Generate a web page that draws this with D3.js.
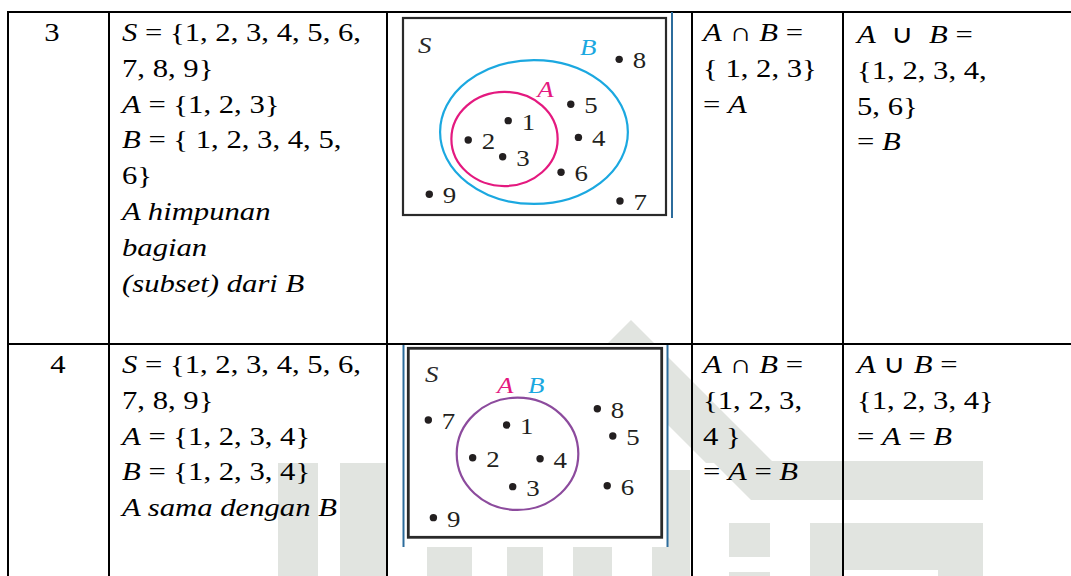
<!DOCTYPE html>
<html>
<head>
<meta charset="utf-8">
<script src="https://cdn.jsdelivr.net/npm/d3@7"></script>
<style>
	html, body { margin: 0; padding: 0; background: #fff; overflow: hidden; }
	svg { display: block; }
	text { font-family: "Liberation Serif", "Times New Roman", serif; }
</style>
</head>
<body>
<svg id="chart"></svg>
<script>
// ---- data ----
const rowNumbers = ['3', '4'];

// each line is a list of [text, italic?] pieces
const setLines = [
	[
		[['S', 1], [' = {1, 2, 3, 4, 5, 6,', 0]],
		[['7, 8, 9}', 0]],
		[['A', 1], [' = {1, 2, 3}', 0]],
		[['B', 1], [' = { 1, 2, 3, 4, 5,', 0]],
		[['6}', 0]],
		[['A himpunan', 1]],
		[['bagian', 1]],
		[['(subset) dari B', 1]],
	],
	[
		[['S', 1], [' = {1, 2, 3, 4, 5, 6,', 0]],
		[['7, 8, 9}', 0]],
		[['A', 1], [' = {1, 2, 3, 4}', 0]],
		[['B', 1], [' = {1, 2, 3, 4}', 0]],
		[['A sama dengan B', 1]],
	],
];

const intersectionLines = [
	[
		[['A', 1], [' \u2229 ', 0], ['B', 1], [' =', 0]],
		[['{ 1, 2, 3}', 0]],
		[['= ', 0], ['A', 1]],
	],
	[
		[['A', 1], [' \u2229 ', 0], ['B', 1], [' =', 0]],
		[['{1, 2, 3,', 0]],
		[['4 }', 0]],
		[['= ', 0], ['A', 1], [' = ', 0], ['B', 1]],
	],
];

const unionLines = [
	[
		[['A', 1], ['\u00a0 \u222a \u00a0', 0], ['B', 1], [' =', 0]],
		[['{1, 2, 3, 4,', 0]],
		[['5, 6}', 0]],
		[['= ', 0], ['B', 1]],
	],
	[
		[['A', 1], [' \u222a ', 0], ['B', 1], [' =', 0]],
		[['{1, 2, 3, 4}', 0]],
		[['= ', 0], ['A', 1], [' = ', 0], ['B', 1]],
	],
];

// Venn diagrams, in box units (0..100 across and down the S rectangle)
const vennPoints = [
	[
		{ label: '1', u: 40.0, v: 52.1 },
		{ label: '2', u: 24.8, v: 61.9 },
		{ label: '3', u: 37.9, v: 70.4 },
		{ label: '4', u: 66.7, v: 60.6 },
		{ label: '5', u: 63.8, v: 43.8 },
		{ label: '6', u: 60.1, v: 78.3 },
		{ label: '7', u: 82.5, v: 92.9 },
		{ label: '8', u: 82.2, v: 21.0 },
		{ label: '9', u: 10.0, v: 89.5 },
	],
	[
		{ label: '1', u: 38.8, v: 40.6 },
		{ label: '2', u: 25.4, v: 57.9 },
		{ label: '3', u: 41.2, v: 73.2 },
		{ label: '4', u: 52.0, v: 58.4 },
		{ label: '5', u: 80.7, v: 46.4 },
		{ label: '6', u: 78.5, v: 72.7 },
		{ label: '7', u: 7.9, v: 37.9 },
		{ label: '8', u: 74.6, v: 32.0 },
		{ label: '9', u: 9.9, v: 89.6 },
	],
];

const vennSets = [
	[
		{ name: 'B', cu: 49.8, cv: 57.9, ru: 35.7, rv: 36.5 },
		{ name: 'A', cu: 38.6, cv: 61.4, ru: 20.2, rv: 23.9 },
	],
	[
		{ name: 'AB', cu: 43.1, cv: 55.8, ru: 24.0, rv: 29.7 },
	],
];

const vennLabels = [
	[
		{ name: 'S', u: 5.7, v: 17.8 },
		{ name: 'B', u: 67.3, v: 18.8 },
		{ name: 'A', u: 51.0, v: 39.9 },
	],
	[
		{ name: 'S', u: 6.6, v: 17.8 },
		{ name: 'A', u: 35.0, v: 23.7 },
		{ name: 'B', u: 47.2, v: 23.7 },
	],
];

// ---- layout ----
const W = 1071, H = 576;
const colX = [8, 109, 387, 692, 843];
const rowTop = [12, 344];
const lineStep = 35.8;
const sx = 1.18; // the scan is stretched sideways
const fontSize = 26;
const vennFont = 24;

const setColor = { A: '#e4197f', B: '#1ba8e0', AB: '#8c4b9d', S: '#2a2a2a' };
const wmColor = '#e1e4e0';

const svg = d3.select('#chart').attr('width', W).attr('height', H);
svg.append('rect').attr('width', W).attr('height', H).attr('fill', '#fff');

// faint watermark logo behind the table
const wm = svg.append('g').attr('fill', wmColor);
const wmPolys = [
	// roof: two slanted arms meeting at the top
	[[631, 320], [774, 463], [706, 463], [631, 388], [556, 463], [488, 463]],
	// eave running to the right
	[[712, 461], [983, 461], [983, 500], [751, 500]],
];
wm.selectAll('polygon')
	.data(wmPolys)
	.join('polygon')
	.attr('points', (d) => d.map((p) => p.join(',')).join(' '));
const wmRects = [
	[278, 463, 40, 113], [340, 463, 47, 113],
	[427, 470, 45, 106], [507, 470, 36, 106], [573, 470, 39, 106], [652, 470, 38, 106],
	[729, 523, 41, 34], [729, 572, 41, 4],
	[810, 523, 173, 53],
];
wm.selectAll('rect')
	.data(wmRects)
	.join('rect')
	.attr('x', (d) => d[0]).attr('y', (d) => d[1])
	.attr('width', (d) => d[2]).attr('height', (d) => d[3]);
wm.append('rect').attr('x', 843).attr('y', 570).attr('width', 95).attr('height', 6).attr('fill', '#fff');

// table rules
const rules = svg.append('g').attr('stroke', '#000').attr('stroke-width', 2);
rules.selectAll('line.v')
	.data(colX)
	.join('line')
	.attr('class', 'v')
	.attr('x1', (d) => d).attr('x2', (d) => d)
	.attr('y1', rowTop[0] - 1).attr('y2', H);
rules.selectAll('line.h')
	.data(rowTop)
	.join('line')
	.attr('class', 'h')
	.attr('x1', colX[0] - 1).attr('x2', W)
	.attr('y1', (d) => d).attr('y2', (d) => d);

// text helper
function drawLines(g, lines, x, y0) {
	lines.forEach((pieces, i) => {
		const t = g.append('text')
			.attr('transform', `translate(${x},${y0 + i * lineStep}) scale(${sx},1)`)
			.attr('font-size', fontSize)
			.attr('fill', '#000')
			.style('white-space', 'pre');
		t.selectAll('tspan')
			.data(pieces)
			.join('tspan')
			.attr('font-style', (d) => (d[1] ? 'italic' : 'normal'))
			.text((d) => d[0]);
	});
}

const textG = svg.append('g');
rowNumbers.forEach((n, r) => {
	const base = rowTop[r] + 29;
	textG.append('text')
		.attr('transform', `translate(${r === 0 ? 52 : 58},${base}) scale(${sx},1)`)
		.attr('font-size', fontSize)
		.attr('text-anchor', 'middle')
		.text(n);
	drawLines(textG, setLines[r], 122, base);
	drawLines(textG, intersectionLines[r], 703, base);
	drawLines(textG, unionLines[r], 857, base + (r === 0 ? 2 : 0));
});

// Venn diagrams
const boxes = [
	{ bg: [395, 14, 277, 204], frame: [403, 18, 666, 215], blue: [672], blueY: [12, 218], frameW: 2.2 },
	{ bg: [403, 345, 265, 202], frame: [408.3, 348.3, 661.7, 537.3], blue: [403.5, 667.5], blueY: [345, 547], frameW: 2.8 },
];

boxes.forEach((b, k) => {
	const g = svg.append('g');
	g.append('rect')
		.attr('x', b.bg[0]).attr('y', b.bg[1])
		.attr('width', b.bg[2]).attr('height', b.bg[3])
		.attr('fill', '#fff');
	g.selectAll('line.blue')
		.data(b.blue)
		.join('line')
		.attr('class', 'blue')
		.attr('x1', (d) => d).attr('x2', (d) => d)
		.attr('y1', b.blueY[0]).attr('y2', b.blueY[1])
		.attr('stroke', '#2c6c9c').attr('stroke-width', 2);

	const x = d3.scaleLinear().domain([0, 100]).range([b.frame[0], b.frame[2]]);
	const y = d3.scaleLinear().domain([0, 100]).range([b.frame[1], b.frame[3]]);
	const kx = x(1) - x(0), ky = y(1) - y(0);

	g.append('rect')
		.attr('x', x(0)).attr('y', y(0))
		.attr('width', x(100) - x(0)).attr('height', y(100) - y(0))
		.attr('fill', 'none')
		.attr('stroke', '#2a2a2a')
		.attr('stroke-width', b.frameW);

	g.selectAll('ellipse')
		.data(vennSets[k])
		.join('ellipse')
		.attr('cx', (d) => x(d.cu)).attr('cy', (d) => y(d.cv))
		.attr('rx', (d) => d.ru * kx).attr('ry', (d) => d.rv * ky)
		.attr('fill', 'none')
		.attr('stroke', (d) => setColor[d.name])
		.attr('stroke-width', 2.2);

	g.selectAll('circle')
		.data(vennPoints[k])
		.join('circle')
		.attr('cx', (d) => x(d.u)).attr('cy', (d) => y(d.v))
		.attr('r', 3.7)
		.attr('fill', '#231f20');

	g.selectAll('text.pt')
		.data(vennPoints[k])
		.join('text')
		.attr('class', 'pt')
		.attr('transform', (d) => `translate(${x(d.u) + 13.5},${y(d.v) + 9}) scale(1.12,1)`)
		.attr('font-size', vennFont)
		.attr('fill', '#231f20')
		.text((d) => d.label);

	g.selectAll('text.set')
		.data(vennLabels[k])
		.join('text')
		.attr('class', 'set')
		.attr('transform', (d) => `translate(${x(d.u)},${y(d.v)}) scale(1.12,1)`)
		.attr('font-size', vennFont)
		.attr('font-style', 'italic')
		.attr('fill', (d) => setColor[d.name])
		.text((d) => d.name);
});
</script>
</body>
</html>
